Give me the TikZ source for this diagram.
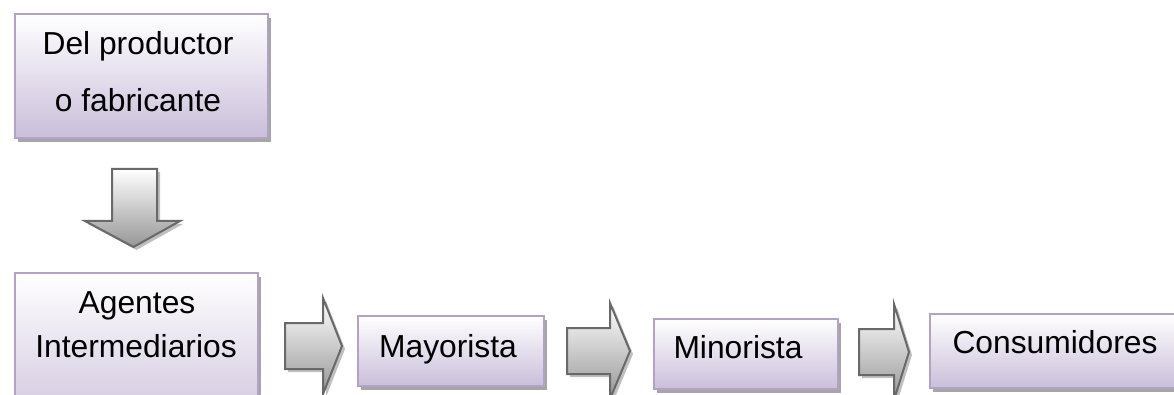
\documentclass[tikz,border=0pt]{standalone}
\usepackage{fontspec}
\setmainfont{Liberation Sans}
\usetikzlibrary{shadows}
\definecolor{boxborder}{RGB}{178,162,199}
\definecolor{boxbottom}{RGB}{202,190,218}
\definecolor{arrowborder}{RGB}{105,105,105}
\definecolor{arrowbottom}{RGB}{150,150,150}
\begin{document}
\begin{tikzpicture}[x=1pt,y=-1pt,
  box/.style={draw=boxborder, line width=2pt, top color=white, bottom color=boxbottom,
    drop shadow={shadow xshift=3pt, shadow yshift=-4pt, fill=black, opacity=0.35},
    inner sep=0pt, anchor=north west},
  txt/.style={font=\fontsize{31.8}{37}\selectfont, inner sep=0pt, anchor=base},
  blockarrow/.style={draw=arrowborder, line width=2pt, line join=miter, top color=white, bottom color=arrowbottom,
    drop shadow={shadow xshift=3pt, shadow yshift=-3pt, fill=black, opacity=0.25}}
]
\path[use as bounding box, clip] (0,0) rectangle (1174,395);

% boxes
\node[box, minimum width=253pt, minimum height=124pt] (prod) at (14,13) {};
\node[box, minimum width=243pt, minimum height=170pt] (agent) at (14,272) {};
\node[box, minimum width=186pt, minimum height=70pt] (mayor) at (357,315) {};
\node[box, minimum width=184pt, minimum height=70pt] (minor) at (653,318) {};
\node[box, minimum width=270pt, minimum height=74pt] (cons) at (929,313) {};

% texts
\node[txt] (prodA) at (138,55) {Del productor};
\node[txt] (prodB) at (138,112) {o fabricante};
\node[txt] (agentA) at (137,313) {Agentes};
\node[txt] (agentB) at (136,357) {Intermediarios};
\node[txt] (mayorT) at (448,357) {Mayorista};
\node[txt] (minorT) at (738,358) {Minorista};
\node[txt] (consT) at (1055,353) {Consumidores};

% block arrows
\draw[blockarrow] (112,169) -- (157,169) -- (157,221) -- (180,221) -- (133.5,247) -- (85,221) -- (112,221) -- cycle;
\draw[blockarrow] (285,323) -- (323,323) -- (323,298) -- (342,346) -- (323,394) -- (323,369) -- (285,369) -- cycle;
\draw[blockarrow] (567,328) -- (610,328) -- (610,303) -- (630,351) -- (610,399) -- (610,374) -- (567,374) -- cycle;
\draw[blockarrow] (859,329) -- (894,329) -- (894,304) -- (909,352) -- (894,400) -- (894,375) -- (859,375) -- cycle;
\end{tikzpicture}
\end{document}
